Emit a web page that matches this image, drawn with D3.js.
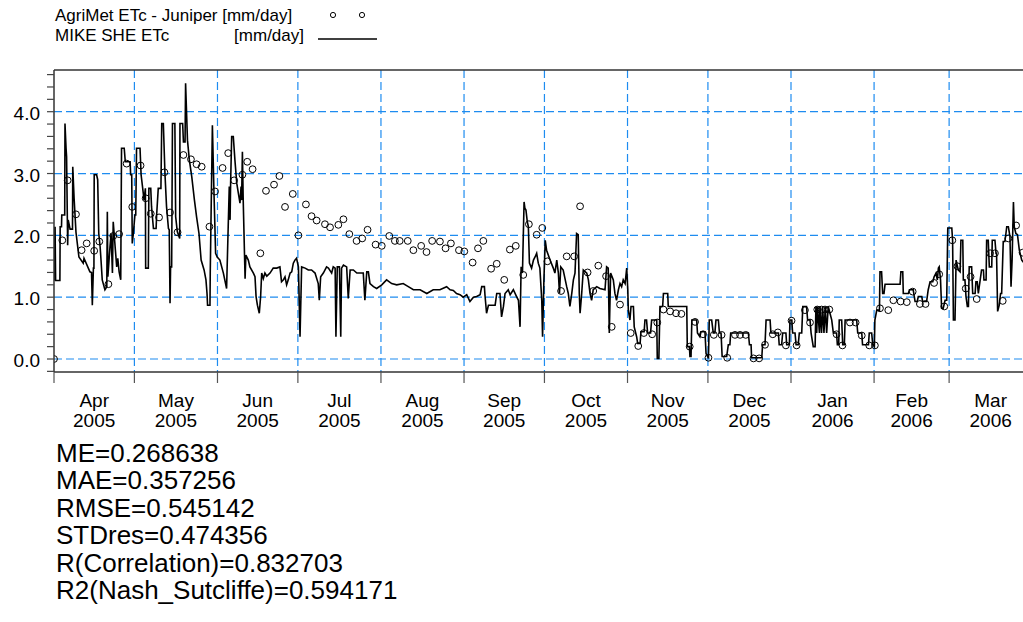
<!DOCTYPE html>
<html>
<head>
<meta charset="utf-8">
<script src="https://cdn.jsdelivr.net/npm/d3@7"></script>
<style>
  body { margin: 0; background: #fff; }
  svg { display: block; font-family: "Liberation Sans", Arial, sans-serif; }
</style>
</head>
<body>
<svg id="chart" width="1023" height="622"></svg>
<script>
// Period start; all day offsets below count from 1 April 2005.
const startDate = Date.UTC(2005, 3, 1);
const endDate = Date.UTC(2006, 3, 1);

// MIKE SHE simulated ETc [mm/day]: breakpoints (day offset, value).
const simDays = [
  0,0.1,0.4,0.6,2.2,2.3,2.8,2.9,4.0,4.1,4.5,4.7,5.1,5.3,6.0,6.9,7.0,7.5,8.2,9.3,10.9,11.2,12.8,13.4,14.0,14.3,14.7,14.9,15.0,15.9,16.3,16.7,17.2,17.5,18.0,19.0,19.7,19.9,20.1,20.9,21.3,21.8,22.1,22.8,23.4,23.8,24.3,24.9,25.2,26.2,26.6,28.4,28.6,29.0,29.2,29.6,30.2,30.5,30.8,32.1,32.5,33.1,33.6,34.1,34.2,35.2,35.4,36.1,36.4,37.1,38.1,38.3,38.9,39.9,40.2,40.8,41.4,42.0,42.7,43.0,43.3,43.5,43.9,44.2,45.1,45.4,46.0,46.9,47.0,48.0,48.3,48.9,49.1,49.8,50.5,51.4,52.4,53.2,54.1,54.9,56.0,56.7,57.1,57.3,58.2,58.3,58.6,59.1,59.7,60.3,60.9,
  61.9,63.2,64.4,65.0,65.4,65.7,65.9,66.3,66.9,67.5,68.2,68.8,69.4,69.8,70.0,70.3,70.6,71.3,71.6,72.5,73.1,74.4,75.0,75.4,75.9,76.6,77.1,77.5,78.1,78.7,79.4,80.6,81.8,83.1,84.3,84.9,85.6,86.2,86.8,87.4,88.1,88.7,89.3,89.9,90.5,91.2,91.8,92.4,93.7,94.9,96.1,97.4,98.6,99.0,99.5,100.5,101.7,102.4,103.6,104.2,104.9,105.2,105.7,106.5,107.0,107.3,108.0,109.2,109.8,110.5,111.7,113.0,114.2,115.4,116.0,116.7,117.3,117.9,119.2,120.4,122.3,124.1,126.0,127.9,130.3,132.2,134.1,136.6,139.1,141.5,144.0,
  146.5,147.8,149.0,150.2,151.5,152.7,154.0,155.2,156.5,157.7,159.0,159.6,160.6,160.8,161.4,162.1,164.6,165.2,166.4,167.0,167.7,168.3,169.5,170.2,171.4,172.6,173.3,173.9,174.3,174.8,175.4,175.7,176.1,176.6,177.0,177.4,178.2,178.9,179.5,180.1,180.7,181.3,182.0,182.3,182.8,183.3,183.8,185.1,186.3,186.9,187.6,188.2,188.6,189.1,190.0,191.3,191.9,192.5,193.2,193.8,194.4,195.0,195.6,196.0,196.3,196.9,197.5,198.8,199.4,200.0,200.6,201.2,202.5,203.7,205.6,206.2,206.8,207.2,207.7,208.7,209.3,209.9,210.6,211.2,211.8,212.4,213.1,213.7,214.1,214.3,214.9,215.3,216.2,216.5,217.4,217.8,218.7,219.0,220.2,220.5,221.1,221.5,222.6,223.0,224.9,225.1,225.7,226.1,227.1,227.4,229.0,229.2,236.1,236.3,237.1,237.3,237.7,238.0,239.8,240.1,241.0,241.4,242.9,243.3,244.2,244.5,245.4,
  246.0,246.6,247.0,247.9,248.3,248.9,249.3,251.0,251.6,252.2,252.5,259.1,259.5,260.1,260.3,264.1,264.4,265.3,265.7,267.2,267.5,270.3,270.6,271.5,271.9,273.1,273.4,274.4,274.6,275.3,275.6,276.5,276.9,277.7,278.1,279.0,279.4,280.8,281.2,282.1,282.5,283.3,284.0,284.3,284.6,284.9,285.6,285.8,286.4,286.8,287.3,287.8,288.3,288.9,290.2,290.8,292.0,292.3,292.8,293.0,293.9,294.3,294.9,295.2,299.5,299.9,301.4,301.7,303.9,304.2,305.1,305.5,306.1,306.3,307.0,308.0,308.2,308.8,309.2,309.7,310.1,315.7,316.0,316.7,316.9,318.8,319.2,320.6,321.3,322.1,322.5,323.8,324.1,325.6,326.2,326.9,327.9,328.4,329.1,329.6,330.0,330.3,330.8,331.2,331.8,332.5,333.1,333.5,335.0,335.3,335.6,336.2,336.6,337.4,338.1,338.4,339.1,339.3,339.9,340.3,340.8,341.2,341.5,342.4,342.8,343.7,344.0,344.5,344.9,346.1,346.8,347.0,347.8,348.0,348.6,349.0,349.9,350.1,351.1,351.5,351.7,352.1,352.7,353.2,353.6,354.2,354.8,355.2,355.5,356.1,356.7,357.1,357.5,358.0,358.3,358.9,359.5,360.2,361.1,362.0,363.0,364.0
];
const simETc = [
  2.14,1.27,2.14,1.27,1.27,2.14,2.14,2.33,2.33,3.81,3.41,3.27,1.84,2.25,2.10,2.10,3.11,2.60,2.05,1.65,1.55,1.63,1.47,1.41,1.40,0.87,1.47,1.47,2.98,2.98,2.90,2.03,1.82,1.63,1.28,1.12,1.17,2.38,1.33,1.82,2.03,1.39,2.22,1.82,1.49,1.63,1.41,1.28,3.41,3.41,3.19,3.19,2.98,2.98,1.87,2.03,2.33,2.33,3.41,3.41,2.98,2.76,2.57,2.76,1.47,1.47,2.76,2.76,2.46,2.11,2.11,2.33,2.76,2.76,3.81,3.81,3.00,2.46,2.11,2.09,0.90,1.49,1.49,3.81,3.81,2.30,2.06,1.95,3.81,3.81,3.51,3.51,4.46,3.54,3.22,2.95,2.57,2.30,2.03,1.60,1.44,1.28,1.06,0.87,0.87,1.39,2.30,3.78,2.68,1.71,1.65,
  1.60,1.39,1.14,2.14,2.79,2.25,2.84,3.60,3.60,3.22,2.84,2.68,2.52,2.79,2.57,3.35,2.57,1.30,1.68,1.60,1.49,1.39,1.33,1.01,0.87,0.74,1.01,1.39,1.30,1.39,1.34,1.39,1.47,1.47,1.49,1.25,1.28,1.33,1.20,1.28,1.39,1.41,1.55,1.60,1.63,1.49,0.36,1.49,1.47,1.44,1.44,1.39,1.22,0.95,1.33,1.39,1.49,1.47,1.39,1.49,1.47,0.36,1.49,1.49,0.36,1.47,1.52,1.49,0.98,1.44,1.44,1.39,1.39,1.39,0.95,1.41,1.41,1.22,1.17,1.14,1.20,1.28,1.22,1.20,1.22,1.17,1.12,1.12,1.06,1.12,1.12,
  1.17,1.12,1.11,1.06,1.04,1.00,1.04,0.93,1.00,1.01,1.04,1.17,1.17,1.04,0.74,0.87,0.87,1.06,1.06,0.68,0.85,1.06,1.12,1.04,1.12,1.01,0.95,0.52,1.49,1.39,2.54,2.44,2.41,2.22,2.14,1.55,1.47,1.60,1.65,1.71,1.55,1.47,0.95,0.36,1.28,1.92,1.76,1.60,1.47,1.39,1.60,1.39,1.06,1.49,1.44,1.17,1.06,0.85,1.06,1.28,1.39,2.03,2.01,1.06,0.74,1.06,1.44,1.39,1.28,1.06,0.95,1.12,1.17,1.14,1.12,1.49,1.47,0.42,1.39,1.28,1.06,0.95,1.12,1.22,1.17,1.28,1.22,1.47,1.12,0.79,0.63,0.85,0.85,0.52,0.36,0.25,0.25,0.44,0.44,0.63,0.63,0.42,0.42,0.63,0.63,0.01,0.01,0.85,0.85,1.06,1.06,0.85,0.85,0.20,0.20,0.04,0.04,0.63,0.63,0.42,0.36,0.44,0.44,0.09,0.01,0.63,0.63,
  0.42,0.42,0.63,0.63,0.42,0.42,0.04,0.04,0.23,0.23,0.42,0.42,0.23,0.23,0.02,0.02,0.23,0.23,0.63,0.63,0.42,0.42,0.23,0.23,0.42,0.42,0.23,0.23,0.63,0.63,0.42,0.42,0.23,0.23,0.42,0.42,0.85,0.85,0.63,0.63,0.42,0.20,0.20,0.85,0.42,0.85,0.42,0.85,0.42,0.85,0.42,0.85,0.42,0.85,0.63,0.42,0.42,0.23,0.23,0.63,0.63,0.23,0.23,0.63,0.63,0.42,0.42,0.23,0.23,0.42,0.42,0.23,0.20,0.63,0.79,0.79,1.41,1.41,1.06,1.06,1.21,1.21,1.41,1.41,1.06,1.06,1.12,1.12,0.93,0.93,1.01,1.01,0.93,0.93,1.12,1.25,1.25,1.33,1.39,1.28,1.47,1.49,1.28,0.82,0.82,0.95,0.95,2.12,2.12,1.92,0.63,0.63,1.60,1.44,1.41,1.92,1.92,1.28,1.28,1.01,0.85,0.85,1.49,1.49,1.06,1.06,1.25,1.25,1.06,1.44,1.44,1.28,1.28,1.92,1.92,1.49,1.49,1.92,1.92,1.71,1.71,0.77,0.87,1.06,1.06,1.90,1.90,2.03,2.14,2.14,1.98,1.17,1.60,2.54,2.14,2.03,2.01,1.76,1.60,1.55,1.60,1.62
];

// AgriMet ETc - Juniper [mm/day]: observation days and values.
const obsDays = [
  0,3.1,5.1,8.2,10.3,12.2,15.0,16.9,20.3,22.1,24.3,27.1,29.2,32.3,34.2,36.1,39.2,41.2,43.3,46.1,48.3,51.1,53.2,55.1,58.0,60.1,62.9,65.0,67.2,70.3,72.1,74.1,77.0,79.1,82.1,84.1,86.2,89.1,91.2,94.0,96.1,98.0,101.1,103.0,106.1,108.0,110.2,112.9,115.0,117.0,120.0,122.3,125.1,127.2,129.0,132.0,134.1,137.0,139.0,141.1,144.0,146.1,148.1,151.1,153.1,156.2,158.2,160.2,163.1,165.2,168.0,170.1,172.3,175.1,177.2,180.1,182.2,184.1,189.2,191.3,194.1,196.3,199.1,201.2,203.1,206.0,208.1,211.2,215.2,218.0,220.1,223.2,225.1,227.4,229.9,232.1,234.1,237.2,239.2,242.2,244.2,246.2,249.1,251.2,254.1,256.0,258.1,261.0,263.1,265.3,268.2,270.1,273.1,275.2,277.1,280.2,282.1,284.8,286.4,287.7,289.3,292.0,294.2,297.0,299.1,301.4,304.2,306.3,308.2,311.3,313.2,315.9,318.2,320.4,323.1,325.2,328.4,330.3,332.2,335.2,337.1,340.2,342.0,344.3,349.3,351.1,354.0,356.1,359.0,361.4
];
const obsETc = [
  0.00,1.92,2.89,2.34,1.76,1.87,1.75,1.90,1.21,1.99,2.02,3.16,2.46,3.13,2.60,2.35,2.29,3.02,2.37,2.05,3.30,3.23,3.15,3.11,2.14,2.71,3.09,3.33,2.89,2.98,3.19,3.07,1.71,2.72,2.82,2.96,2.46,2.67,2.00,2.50,2.31,2.24,2.18,2.13,2.17,2.26,2.02,1.91,1.95,2.09,1.85,1.83,1.99,1.91,1.91,1.91,1.76,1.83,1.73,1.91,1.90,1.79,1.87,1.76,1.74,1.56,1.79,1.91,1.46,1.54,1.28,1.77,1.83,1.36,2.18,2.01,2.12,1.58,1.10,1.66,1.66,2.47,1.40,1.10,1.51,1.34,0.52,0.88,0.42,0.21,0.42,0.40,0.59,0.80,0.77,0.74,0.73,0.20,0.60,0.40,0.02,0.39,0.39,0.02,0.39,0.39,0.39,0.01,0.01,0.23,0.40,0.43,0.22,0.62,0.22,0.79,0.59,0.80,0.80,0.80,0.80,0.40,0.22,0.59,0.59,0.38,0.22,0.22,0.82,0.79,0.95,0.93,0.92,1.09,0.89,0.89,1.23,1.37,0.85,1.92,1.50,1.14,1.33,0.97,1.71,1.71,0.94,1.95,2.16,1.72
];

// Y axis tick values and labelled values.
const yTickValues = d3.range(-2, 47).map(i => i / 10).filter((v, i) => i % 2 === 0);
const yLabelValues = [0, 1, 2, 3, 4];

// Legend rows and goodness-of-fit statistics.
const legendRows = [
  { name: "AgriMet ETc - Juniper", unit: "[mm/day]", kind: "circles" },
  { name: "MIKE SHE ETc", unit: "[mm/day]", kind: "line" }
];
const statLines = [
  "ME=0.268638",
  "MAE=0.357256",
  "RMSE=0.545142",
  "STDres=0.474356",
  "R(Correlation)=0.832703",
  "R2(Nash_Sutcliffe)=0.594171"
];

const DAY = 86400000;
const toDate = d => new Date(startDate + d * DAY);

const svg = d3.select("#chart");
const plotLeft = 54, plotRight = 1023, plotTop = 70, plotBottom = 372;

const x = d3.scaleUtc().domain([new Date(startDate), new Date(endDate)]).range([54, 1032.2]);
const y = d3.scaleLinear().domain([0, 4]).range([359, 111.7]);

const gridBlue = "#1e8cf0";

// clip region for the data
svg.append("defs").append("clipPath").attr("id", "plotClip")
  .append("rect").attr("x", plotLeft).attr("y", plotTop)
  .attr("width", plotRight - plotLeft).attr("height", plotBottom - plotTop);

const months = d3.utcMonth.range(new Date(startDate), new Date(endDate));

// horizontal grid
svg.append("g").selectAll("line").data(yLabelValues).join("line")
  .attr("x1", plotLeft).attr("x2", plotRight)
  .attr("y1", d => y(d)).attr("y2", d => y(d))
  .attr("stroke", gridBlue).attr("stroke-width", 1.2).attr("stroke-dasharray", "8,4");

// vertical grid at month boundaries
svg.append("g").selectAll("line").data(months.slice(1)).join("line")
  .attr("x1", d => x(d)).attr("x2", d => x(d))
  .attr("y1", plotTop).attr("y2", plotBottom)
  .attr("stroke", gridBlue).attr("stroke-width", 1.2).attr("stroke-dasharray", "8,4");

// simulated series
const simData = simDays.map((d, i) => ({ date: toDate(d), v: simETc[i] }));
const line = d3.line().x(d => x(d.date)).y(d => y(d.v));
svg.append("path").datum(simData)
  .attr("clip-path", "url(#plotClip)")
  .attr("d", line).attr("fill", "none")
  .attr("stroke", "#000").attr("stroke-width", 1.6).attr("stroke-linejoin", "miter");

// observed series
const obsData = obsDays.map((d, i) => ({ date: toDate(d), v: obsETc[i] }));
svg.append("g").attr("clip-path", "url(#plotClip)")
  .selectAll("circle").data(obsData).join("circle")
  .attr("cx", d => x(d.date)).attr("cy", d => y(d.v)).attr("r", 3.4)
  .attr("fill", "none").attr("stroke", "#000").attr("stroke-width", 1);

// frame
const frame = svg.append("g").attr("stroke", "#333").attr("stroke-width", 1.5);
frame.append("line").attr("x1", plotLeft).attr("x2", plotRight).attr("y1", plotTop).attr("y2", plotTop);
frame.append("line").attr("x1", plotLeft).attr("x2", plotRight).attr("y1", plotBottom).attr("y2", plotBottom);
frame.append("line").attr("x1", plotLeft).attr("x2", plotLeft).attr("y1", plotTop).attr("y2", plotBottom);

// y axis ticks and labels
svg.append("g").selectAll("line").data(yTickValues).join("line")
  .attr("x1", plotLeft - 7).attr("x2", plotLeft)
  .attr("y1", d => y(d)).attr("y2", d => y(d))
  .attr("stroke", "#444").attr("stroke-width", 1.2);
svg.append("g").selectAll("text").data(yLabelValues).join("text")
  .attr("x", 40).attr("y", d => y(d)).attr("dy", "0.42em")
  .attr("text-anchor", "end").attr("font-size", 19).attr("fill", "#000")
  .text(d3.format(".1f"));

// x axis ticks and month labels
svg.append("g").selectAll("line").data(months).join("line")
  .attr("x1", d => x(d)).attr("x2", d => x(d))
  .attr("y1", plotBottom).attr("y2", plotBottom + 11)
  .attr("stroke", "#555").attr("stroke-width", 1.2);
const monthLabel = svg.append("g").selectAll("text").data(months).join("text")
  .attr("text-anchor", "middle").attr("font-size", 19).attr("fill", "#000");
monthLabel.append("tspan")
  .attr("x", d => x(new Date((+d + +d3.utcMonth.offset(d, 1)) / 2)))
  .attr("y", 407).text(d3.utcFormat("%b"));
monthLabel.append("tspan")
  .attr("x", d => x(new Date((+d + +d3.utcMonth.offset(d, 1)) / 2)))
  .attr("y", 427).text(d3.utcFormat("%Y"));

// legend
const legend = svg.append("g").attr("font-size", 17).attr("fill", "#000");
legendRows.forEach((r, i) => {
  const by = 21 + i * 20;
  legend.append("text").attr("x", 55).attr("y", by).text(r.name + (i === 0 ? " " + r.unit : ""));
  if (i > 0) legend.append("text").attr("x", 304).attr("y", by).attr("text-anchor", "end").text(r.unit);
  if (r.kind === "circles") {
    [333, 362].forEach(cx => legend.append("circle").attr("cx", cx).attr("cy", by - 6)
      .attr("r", 2.6).attr("fill", "none").attr("stroke", "#000").attr("stroke-width", 1));
  } else {
    legend.append("line").attr("x1", 318).attr("x2", 377).attr("y1", by - 2).attr("y2", by - 2)
      .attr("stroke", "#000").attr("stroke-width", 1.6);
  }
});

// statistics block
svg.append("g").selectAll("text").data(statLines).join("text")
  .attr("x", 56).attr("y", (d, i) => 462 + i * 27.4)
  .attr("font-size", 26).attr("fill", "#000").text(d => d);
</script>
</body>
</html>
